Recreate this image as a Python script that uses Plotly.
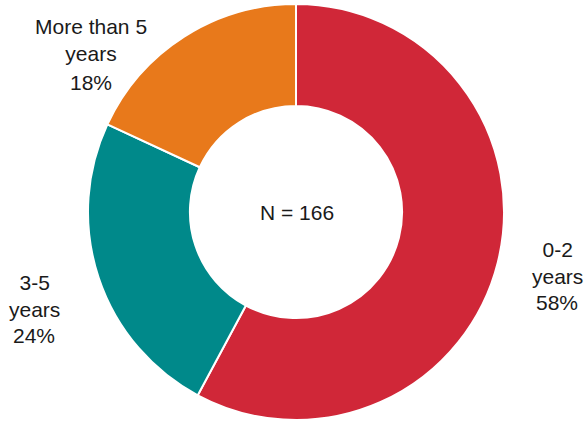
import plotly.graph_objects as go

categories = ["0-2 years", "3-5 years", "More than 5 years"]
counts = [96, 40, 30]
colors = ["#D02738", "#00898A", "#E8791B"]
label_lines = ["0-2<br>years", "3-5<br>years", "More than 5<br>years"]
center_text = "N = 166"

W, H = 588, 423
total = sum(counts)
pcts = [round(c / total * 100) for c in counts]

fig = go.Figure(go.Pie(
    labels=categories,
    values=counts,
    hole=0.51,
    sort=False,
    direction="clockwise",
    rotation=0,
    textinfo="none",
    hoverinfo="label+percent",
    marker=dict(colors=colors, line=dict(color="white", width=2)),
    domain=dict(x=[(296 - 208) / W, (296 + 208) / W], y=[(H - 212 - 208) / H, (H - 212 + 208) / H]),
    showlegend=False,
))

font = dict(family="Liberation Sans, Arial, sans-serif", size=21, color="#1a1a1a")

def px(x, y):
    return x / W, 1 - y / H

# label positions (pixels): (name block center x, name block center y, pct center y)
pos = [(557, 263, 302), (34, 296, 335), (91, 40, 83)]
ann = []
for lab, p, (cx, ny, py) in zip(label_lines, pcts, pos):
    x, y = px(cx, ny)
    ann.append(dict(text=lab, x=x, y=y, xref="paper", yref="paper", showarrow=False,
                    xanchor="center", yanchor="middle", align="center", font=font))
    x, y = px(cx, py)
    ann.append(dict(text=f"{p}%", x=x, y=y, xref="paper", yref="paper", showarrow=False,
                    xanchor="center", yanchor="middle", align="center", font=font))
x, y = px(297, 213)
ann.append(dict(text=center_text, x=x, y=y, xref="paper", yref="paper", showarrow=False,
                xanchor="center", yanchor="middle", font=font))

fig.update_layout(
    width=W, height=H,
    margin=dict(l=0, r=0, t=0, b=0),
    paper_bgcolor="white", plot_bgcolor="white",
    annotations=ann,
)

fig.write_html("out.html", config={"displayModeBar": False},
               post_script="document.body.style.margin='0';document.body.style.overflow='hidden';")
